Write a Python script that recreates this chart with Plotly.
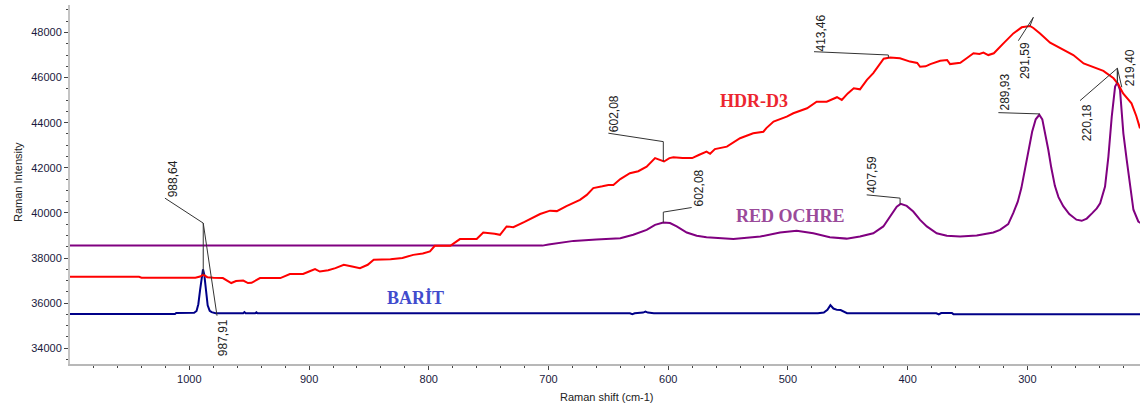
import numpy as np
import plotly.graph_objects as go

# Raman spectra: shift (cm-1) and intensity
barit_shift = [1100, 1012, 1011, 996, 994, 992.5, 991, 989.5, 988.6, 987.5, 986.4, 984.7, 983, 981.4, 978,
               955, 954, 953, 945, 944, 943, 932, 931, 930, 700, 632, 630, 628, 621, 619, 617, 612,
               475, 470, 467, 464.5, 462, 459, 456, 453, 450.6, 376, 374, 372, 363, 361.8, 205.5]
barit_int = [35520, 35520, 35560, 35570, 35650, 35950, 36600, 37300, 37500, 37250, 36600, 35900, 35660, 35600, 35550,
             35550, 35600, 35550, 35550, 35590, 35550, 35550, 35580, 35550, 35550, 35550, 35510, 35550, 35580, 35620, 35580, 35550,
             35550, 35580, 35700, 35910, 35760, 35700, 35690, 35600, 35550, 35550, 35500, 35560, 35560, 35510, 35510]

hdr_shift = [1100, 1042, 1040, 995, 991, 988.4, 985, 980, 972, 968, 965, 961, 955, 951, 948, 941, 924, 916, 905,
             900, 895, 891, 884, 878, 871, 864, 857.5, 851, 846, 832, 822, 813, 805, 799, 795, 782, 774, 760,
             754.5, 745, 740.5, 735, 729.4, 720, 707, 698.7, 693, 685, 673.7, 668, 662.6, 655, 650, 645.8, 640,
             632, 625, 618, 611, 607, 603.5, 599, 595.7, 588, 580, 574, 568, 565, 561, 551, 545, 540, 529, 520.5,
             518, 512, 501, 495.5, 484, 476, 467.6, 459, 455, 450, 445, 439.8, 434, 428.7, 420, 414.7, 406.4, 398,
             392, 389.6, 385, 381, 372.8, 367, 364.6, 356, 350.7, 345, 340, 336.7, 332.6, 328, 320, 311.7, 304.7,
             297.8, 295, 289.4, 281, 272.7, 261.6, 253, 245, 236.5, 228, 224, 220, 213, 209, 205.9]
hdr_int = [37170, 37170, 37130, 37130, 37180, 37260, 37150, 37120, 37110, 37000, 36890, 36980, 37000, 36890, 36900,
           37110, 37110, 37290, 37290, 37400, 37510, 37400, 37460, 37550, 37700, 37620, 37550, 37700, 37920, 37950,
           38000, 38140, 38200, 38290, 38540, 38540, 38840, 38840, 39130, 39080, 39030, 39400, 39370, 39600, 39950,
           40100, 40080, 40300, 40580, 40800, 41100, 41180, 41240, 41240, 41500, 41760, 41850, 42050, 42430, 42350,
           42280, 42430, 42470, 42430, 42430, 42580, 42720, 42620, 42830, 42940, 43150, 43310, 43530, 43600, 43760,
           44050, 44270, 44420, 44640, 44930, 44930, 45130, 45010, 45300, 45530, 45480, 45900, 46200, 46840, 46890,
           46860, 46710, 46650, 46480, 46500, 46600, 46750, 46780, 46600, 46660, 46860, 47080, 47050, 47110, 47000,
           47080, 47520, 47960, 48230, 48290, 48200, 47960, 47550, 47300, 47000, 46630, 46480, 46300, 45970, 45700,
           45300, 44860, 44300, 43750]

ochre_shift = [1100, 705, 700, 679, 660, 640, 629.2, 618, 611, 604.1, 598.5, 592.9, 584.5, 576.2, 568, 545.6, 523,
               506.6, 492.7, 478.8, 465, 451, 439.8, 428.7, 420.3, 414.7, 409.1, 405.8, 400.8, 395.3, 389.6, 384,
               375.7, 367.3, 356.2, 342.3, 328.4, 322.8, 316, 311.7, 308, 305, 302, 299, 296, 293, 290, 287.5, 285,
               282.5, 280, 277, 274, 270, 265, 259, 254.6, 250.4, 246, 242, 239.2, 235.1, 232.3, 229.5, 226.7, 224.8,
               222.6, 219.8, 217, 214.2, 211.4, 207.3, 204.4]
ochre_int = [38550, 38550, 38600, 38760, 38820, 38880, 39030, 39250, 39470, 39570, 39550, 39400, 39130, 38990, 38920,
             38840, 38950, 39130, 39210, 39100, 38920, 38860, 38950, 39100, 39400, 39840, 40280, 40400, 40310, 40060,
             39690, 39400, 39100, 38990, 38950, 39000, 39130, 39250, 39500, 40000, 40500, 41100, 41900, 42800, 43600,
             44150, 44350, 44150, 43550, 42800, 42000, 41200, 40700, 40300, 39950, 39700, 39650, 39750, 39980, 40200,
             40430, 41170, 42500, 44270, 45600, 45780, 45450, 43530, 42350, 41170, 40140, 39620, 39520]

series_names = ["BARİT", "RED OCHRE", "HDR-D3"]

x_ticks = [1000, 900, 800, 700, 600, 500, 400, 300]
y_ticks = [34000, 36000, 38000, 40000, 42000, 44000, 46000, 48000]

# peak labels: text, label centre, leader path from the label towards the peak, curve the leader drops onto
peak_labels = [
    ("988,64", 1013.7, 41532, [(1020.4, 40655), (988.4, 39548)], "hdr"),
    ("987,91", 971.9, 34488, [(976.9, 35441), (988.4, 39548)], None),
    ("602,08", 645.3, 44421, [(650.0, 43535), (604.1, 43162)], "hdr"),
    ("602,08", 574.0, 41098, [(580.4, 40239), (604.1, 40035)], "ochre"),
    ("413,46", 473.2, 47956, [(478.2, 47149), (416.1, 47003)], "hdr"),
    ("407,59", 429.3, 41709, [(434.2, 40801), (406.3, 40655)], "ochre"),
    ("291,59", 301.9, 46737, [(307.5, 47637), (295.0, 48673), (297.8, 48288)], None),
    ("289,93", 318.6, 45342, [(324.2, 44447), (290.0, 44390)], "ochre"),
    ("219,40", 213.6, 46450, [(221.1, 45572), (224.8, 46414)], "hdr"),
    ("220,18", 249.5, 44013, [(256.0, 44979), (224.8, 46414)], "ochre"),
]

curves = {"hdr": (hdr_shift, hdr_int), "ochre": (ochre_shift, ochre_int)}

fig = go.Figure()

fig.add_trace(go.Scatter(x=barit_shift, y=barit_int, mode="lines", name=series_names[0],
                         line=dict(color="#000088", width=2)))
fig.add_trace(go.Scatter(x=ochre_shift, y=ochre_int, mode="lines", name=series_names[1],
                         line=dict(color="#800080", width=2)))
fig.add_trace(go.Scatter(x=hdr_shift, y=hdr_int, mode="lines", name=series_names[2],
                         line=dict(color="#FF0000", width=2)))

# peak labels with leader lines
for text, tx, ty, path, curve in peak_labels:
    pts = list(path)
    if curve is not None:
        cx, cy = curves[curve]
        px_ = pts[-1][0]
        # np.interp needs increasing x
        pts.append((px_, float(np.interp(px_, cx[::-1], cy[::-1]))))
    d = "M " + " L ".join(f"{x},{y}" for x, y in pts)
    fig.add_shape(type="path", path=d, xref="x", yref="y",
                  line=dict(color="#333333", width=1), layer="above")
    fig.add_annotation(x=tx, y=ty, text=text, textangle=-90, showarrow=False,
                       xanchor="center", yanchor="middle",
                       font=dict(family="Liberation Sans, Arial", size=12, color="#222222"))

# series names on the plot
series_label_font = dict(family="Liberation Serif, Times New Roman", size=18)
fig.add_annotation(x=528.1, y=44979, text="<b>HDR-D3</b>", showarrow=False,
                   font=dict(**series_label_font, color="#EC2630"))
fig.add_annotation(x=498.2, y=39884, text="<b>RED OCHRE</b>", showarrow=False,
                   font=dict(**series_label_font, color="#9A4A9A"))
fig.add_annotation(x=810.9, y=36225, text="<b>BARİT</b>", showarrow=False,
                   font=dict(**series_label_font, color="#414BCD"))

# axis titles
fig.add_annotation(x=0.502, y=0, xref="paper", yref="paper", yshift=-33, text="Raman shift (cm-1)",
                   showarrow=False, xanchor="center", yanchor="middle",
                   font=dict(family="Liberation Sans, Arial", size=11, color="#222222"))
fig.add_annotation(x=0, y=0.507, xref="paper", yref="paper", xshift=-52, text="Raman Intensity",
                   textangle=-90, showarrow=False, xanchor="center", yanchor="middle",
                   font=dict(family="Liberation Sans, Arial", size=11, color="#222222"))

tick_font = dict(family="Liberation Sans, Arial", size=11, color="#1a1a40")

fig.update_xaxes(
    range=[1099.7, 205.9], tickvals=x_ticks, ticktext=[str(v) for v in x_ticks],
    showline=True, linecolor="#b8b8b8", linewidth=2, showgrid=False, zeroline=False,
    ticks="outside", ticklen=4, tickcolor="#444444", tickfont=tick_font,
    minor=dict(dtick=20, tick0=0, ticks="outside", ticklen=2, tickcolor="#444444", showgrid=False),
)
fig.update_yaxes(
    range=[33300, 49220], tickvals=y_ticks, ticktext=[str(v) for v in y_ticks],
    showline=True, linecolor="#c4c4c4", linewidth=2, showgrid=False, zeroline=False,
    ticks="outside", ticklen=4, tickcolor="#444444", tickfont=tick_font,
    minor=dict(dtick=500, tick0=0, ticks="outside", ticklen=2, tickcolor="#444444", showgrid=False),
)

fig.update_layout(
    width=1147, height=410,
    margin=dict(l=70, r=7, t=5, b=46),
    plot_bgcolor="white", paper_bgcolor="white",
    showlegend=False,
)

fig.write_html("out.html", config={"displayModeBar": False},
               post_script="document.body.style.margin='0';")
